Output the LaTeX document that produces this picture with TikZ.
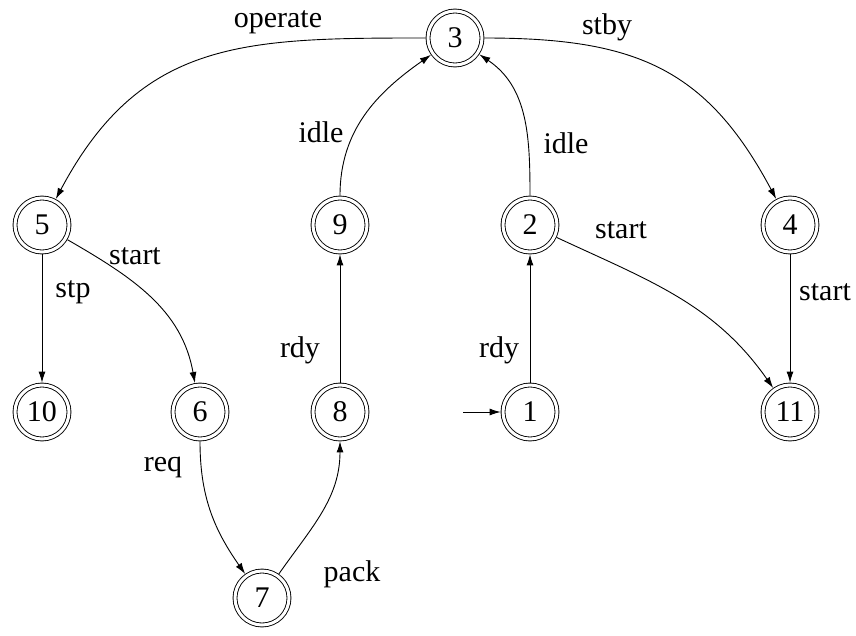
\documentclass[tikz,border=0pt]{standalone}
\usepackage{fontspec}
\setmainfont{Liberation Serif}
\usetikzlibrary{arrows.meta}

\tikzset{
  state/.style={draw, circle, double, double distance=3pt, line width=0.9pt,
    minimum size=54pt, inner sep=0pt, outer sep=2.4pt},
  lbl/.style={inner sep=0pt},
  edge/.style={line width=0.9pt, -{Latex[length=11pt,width=7pt]}}
}

\begin{document}
\begin{tikzpicture}[x=1pt, y=-1pt, font=\fontsize{30}{34}\selectfont]
\useasboundingbox (0,0) rectangle (856,635);

% states
\node[state] (n3)  at (455,38)  {3};
\node[state] (n5)  at (42,225)  {5};
\node[state] (n9)  at (340,225) {9};
\node[state] (n2)  at (530,225) {2};
\node[state] (n4)  at (790,225) {4};
\node[state] (n10) at (42,412)  {10};
\node[state] (n6)  at (200,412) {6};
\node[state] (n8)  at (340,412) {8};
\node[state] (n1)  at (530,412) {1};
\node[state] (n11) at (790,412) {11};
\node[state] (n7)  at (262,598) {7};

% start marker
\coordinate (init) at (463,412);
\draw[edge] (init) -- (n1);

% transitions
\draw[edge] (n3) to[out=180,in=62,looseness=1.15] (n5);
\draw[edge] (n3) to[out=0,in=118,looseness=1.15] (n4);
\draw[edge] (n9) to[out=90,in=215] (n3);
\draw[edge] (n2) to[out=90,in=-34] (n3);
\draw[edge] (n5) -- (n10);
\draw[edge] (n5) to[out=-30,in=100] (n6);
\draw[edge] (n6) to[out=-90,in=125] (n7);
\draw[edge] (n7) to[out=55,in=-90] (n8);
\draw[edge] (n8) -- (n9);
\draw[edge] (n1) -- (n2);
\draw[edge] (n2) to[out=-25,in=125] (n11);
\draw[edge] (n4) -- (n11);

% labels
\node[lbl] (l-operate) at (278,22)  {operate};
\node[lbl] (l-stby)    at (607,27)  {stby};
\node[lbl] (l-idle9)   at (321,132) {idle};
\node[lbl] (l-idle2)   at (566,143) {idle};
\node[lbl] (l-start5)  at (135,256) {start};
\node[lbl] (l-stp)     at (73,292)  {stp};
\node[lbl] (l-start2)  at (621,230) {start};
\node[lbl] (l-start4)  at (825,292) {start};
\node[lbl] (l-rdy8)    at (300,350) {rdy};
\node[lbl] (l-rdy1)    at (499,350) {rdy};
\node[lbl] (l-req)     at (163,467) {req};
\node[lbl] (l-pack)    at (352,574) {pack};
\end{tikzpicture}
\end{document}
